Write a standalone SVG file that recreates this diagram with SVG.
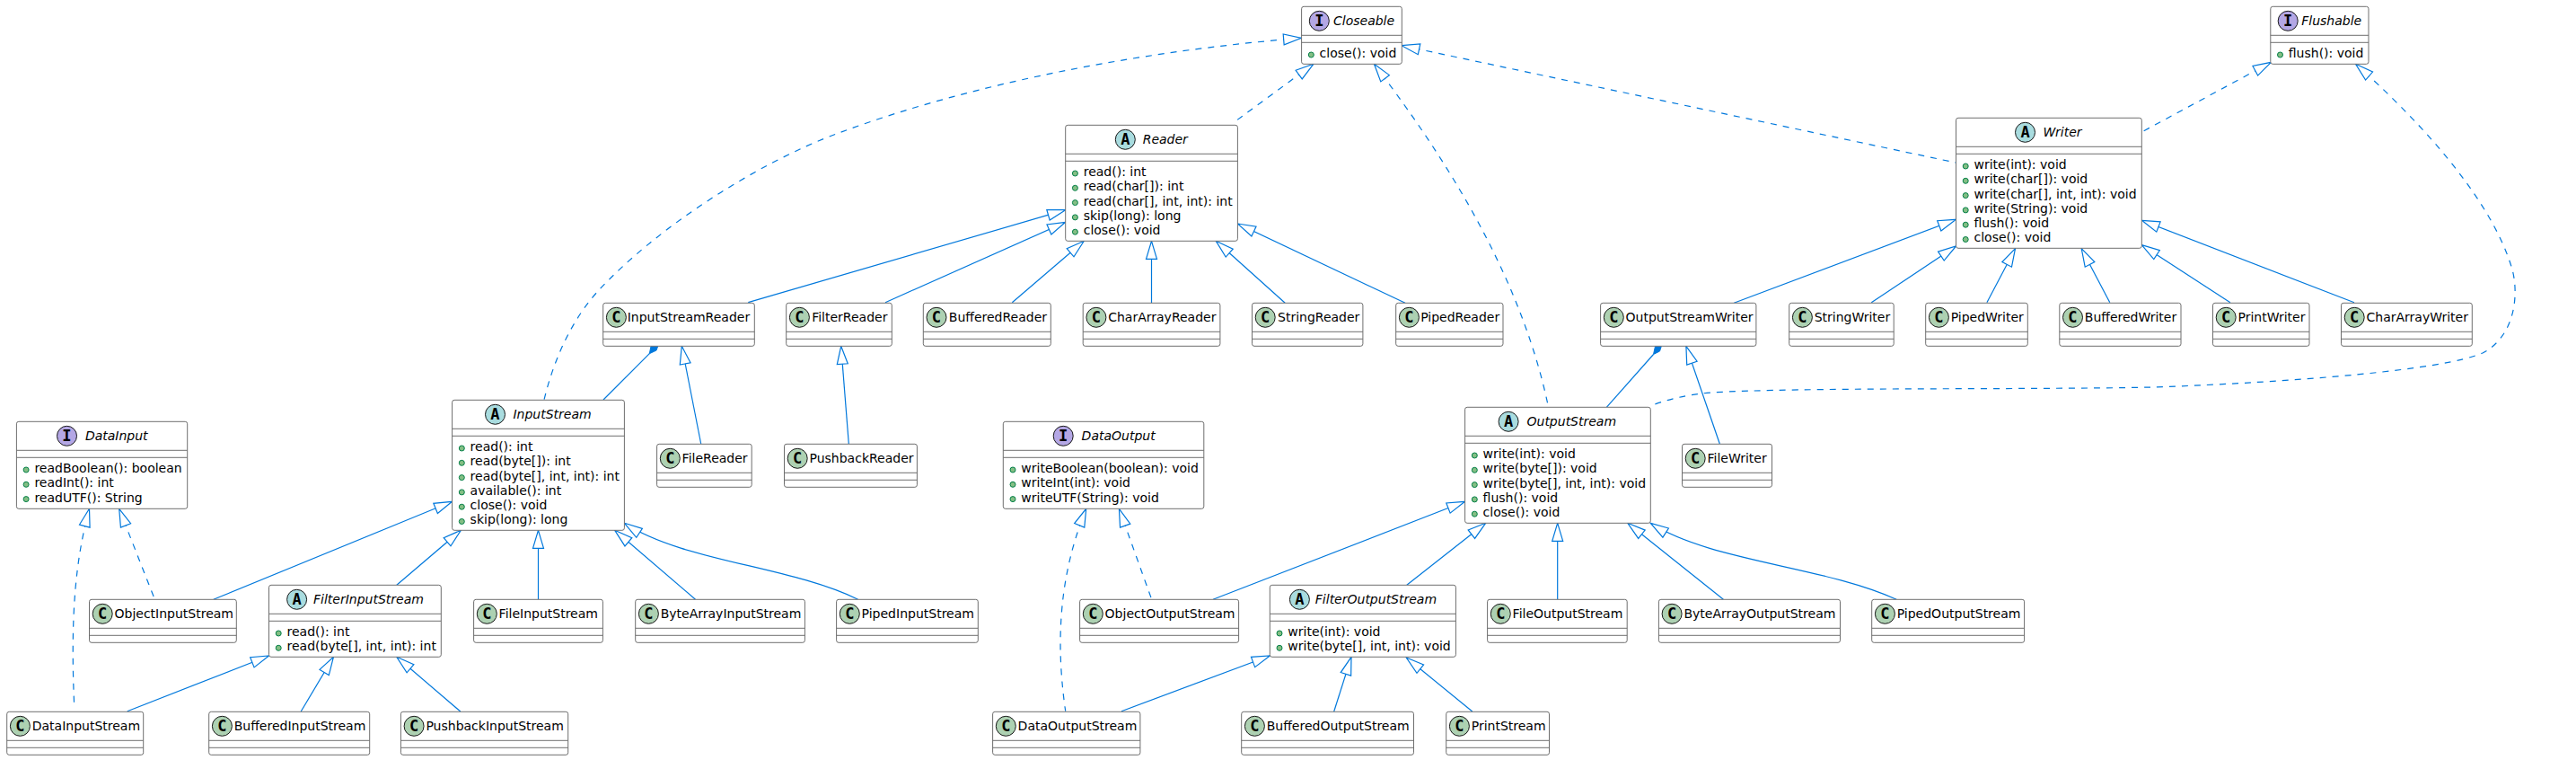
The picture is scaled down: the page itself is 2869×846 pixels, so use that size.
<svg xmlns="http://www.w3.org/2000/svg" width="2869" height="846" viewBox="0 0 2869 846">
<style>
text{font-family:"DejaVu Sans",sans-serif;font-size:14px;fill:#000}
.b{fill:#fff;stroke:#6e6e6e;stroke-width:1}
.l{fill:none;stroke:#6e6e6e;stroke-width:1}
.cc{fill:#ADD1B2;stroke:#181818;stroke-width:1}
.ca{fill:#A9DCDF;stroke:#181818;stroke-width:1}
.ci{fill:#B4A7E5;stroke:#181818;stroke-width:1}
.d{fill:#84BE84;stroke:#038048;stroke-width:1}
text.ic{font-family:"DejaVu Sans Mono",monospace;font-weight:bold;font-size:17px;text-anchor:middle}
text.it{font-style:italic}
.e{fill:none;stroke:#0078DC;stroke-width:1.2;marker-start:url(#tri)}
.da{stroke-dasharray:7,7}
.f{fill:#0078DC;stroke:#0078DC;stroke-width:1}
.k{fill:none;stroke:#0078DC;stroke-width:1.2}
</style>
<defs>
<marker id="tri" markerUnits="userSpaceOnUse" markerWidth="22" markerHeight="14" refX="0" refY="6" orient="auto" overflow="visible"><polygon points="0,6 20,0 20,12" fill="#fff" stroke="#0078DC" stroke-width="1.2"/></marker>
</defs>
<g id="connectors">
<path class="e da" d="M1449.6 42.3C1280 56 1090 90 933.3 148.3C840 183 730 255 666.7 323.3C640 352 618 395 606 445"/>
<path class="e da" d="M1462.8 71.3L1375.5 135.3"/>
<path class="e da" d="M1530.5 71.3C1590 150 1690 290 1724 450.7"/>
<path class="e da" d="M1561 50.7L2178 181"/>
<path class="e da" d="M2529.4 69.3L2385.8 146.7"/>
<path class="e da" d="M2623.6 71.3C2690 130 2775 220 2798 300C2806 330 2800 375 2765 393C2720 412 2560 425 2400 431C2250 434 2000 431 1906 437C1880 439 1860 444 1840 451"/>
<path class="e" d="M1186.7 233.7L833.3 336.7"/>
<path class="e" d="M1186.7 247.3L986 336.7"/>
<path class="e" d="M1207.3 268.3L1127.3 336.7"/>
<path class="e" d="M1282.5 268.3V337.3"/>
<path class="e" d="M1354.3 268.3L1431.2 337.3"/>
<path class="e" d="M1378.4 249L1565 337.3"/>
<path class="e" d="M2178.5 244.3L1931.2 337.3"/>
<path class="e" d="M2178.5 274L2084.3 336.7"/>
<path class="e" d="M2244.5 276.7L2212.9 336.7"/>
<path class="e" d="M2318.2 276.7L2349.8 336.7"/>
<path class="e" d="M2385.3 272.7L2483.9 336.7"/>
<path class="e" d="M2385.3 245.3L2622 336.7"/>
<path class="e" d="M759.3 385.3L780.7 494"/>
<path class="e" d="M936.7 385.3L945.3 494"/>
<path class="e" d="M1877.9 385.3L1915.3 494"/>
<path class="f" d="M723.3 393.7L725 385.5L732.7 385.5L731 390Z"/>
<path class="k" d="M723.3 393.7L672 445"/>
<path class="f" d="M1841.5 394.5L1843.5 385.5L1850.3 385.5L1848.5 391Z"/>
<path class="k" d="M1841.5 394.5L1789.3 453.3"/>
<path class="e" d="M503.6 558.3L237.8 667.3"/>
<path class="e" d="M513.3 590.3L441.8 651.3"/>
<path class="e" d="M599.5 590.3V667.3"/>
<path class="e" d="M684.7 590.3L774.5 667.3"/>
<path class="e" d="M695.4 582.3C760 625 880 630 955.6 667.3"/>
<path class="e" d="M299.5 730L141.8 791.7"/>
<path class="e" d="M371.4 731.3L335.2 792"/>
<path class="e" d="M441.8 731.3L512.8 792"/>
<path class="e da" d="M99.5 566.3C85 620 78 680 82.7 786"/>
<path class="e da" d="M132.7 566.3L172.4 667.3"/>
<path class="e da" d="M1209.7 566.3C1188 620 1172 690 1186.7 791.7"/>
<path class="e da" d="M1246.4 566.3L1282.7 667.3"/>
<path class="e" d="M1631.6 558.3L1351 667.3"/>
<path class="e" d="M1654.6 582.3L1566.8 651.3"/>
<path class="e" d="M1734.7 582.3V667.3"/>
<path class="e" d="M1812.8 582.3L1919.4 667.3"/>
<path class="e" d="M1838.3 582.3C1905 625 2030 630 2112.2 667.3"/>
<path class="e" d="M1414.3 730L1249 791.7"/>
<path class="e" d="M1505 731.3L1485.7 792"/>
<path class="e" d="M1566.3 732L1639.8 792"/>
</g>
<g id="Closeable" transform="translate(1449.6,7.3)"><rect class="b" width="111.7" height="64" rx="2.5"/><path class="l" d="M0 32H111.7M0 40H111.7"/><circle class="ci" cx="19.7" cy="16" r="11"/><text class="ic" x="19.7" y="22">I</text><text class="it" x="35.4" y="20.7">Closeable</text><circle class="d" cx="10.7" cy="53.7" r="3"/><text x="20" y="56.7">close(): void</text></g>
<g id="Flushable" transform="translate(2528.8,7.3)"><rect class="b" width="109.2" height="64" rx="2.5"/><path class="l" d="M0 32H109.2M0 40H109.2"/><circle class="ci" cx="19.4" cy="16" r="11"/><text class="ic" x="19.4" y="22">I</text><text class="it" x="34.4" y="20.7">Flushable</text><circle class="d" cx="10.7" cy="53.7" r="3"/><text x="20" y="56.7">flush(): void</text></g>
<g id="Reader" transform="translate(1186.7,139.3)"><rect class="b" width="191.7" height="129" rx="2.5"/><path class="l" d="M0 32H191.7M0 40H191.7"/><circle class="ca" cx="66.6" cy="16" r="11"/><text class="ic" x="66.6" y="22">A</text><text class="it" x="86" y="20.7">Reader</text>
<circle class="d" cx="10.7" cy="53.7" r="3"/><text x="20" y="56.7">read(): int</text><circle class="d" cx="10.7" cy="70" r="3"/><text x="20" y="73">read(char[]): int</text><circle class="d" cx="10.7" cy="86.3" r="3"/><text x="20" y="89.3">read(char[], int, int): int</text><circle class="d" cx="10.7" cy="102.6" r="3"/><text x="20" y="105.6">skip(long): long</text><circle class="d" cx="10.7" cy="118.9" r="3"/><text x="20" y="121.9">close(): void</text></g>
<g id="Writer" transform="translate(2178.5,131.3)"><rect class="b" width="206.8" height="145" rx="2.5"/><path class="l" d="M0 32H206.8M0 40H206.8"/><circle class="ca" cx="77" cy="16" r="11"/><text class="ic" x="77" y="22">A</text><text class="it" x="97" y="20.7">Writer</text>
<circle class="d" cx="10.7" cy="53.7" r="3"/><text x="20" y="56.7">write(int): void</text><circle class="d" cx="10.7" cy="70" r="3"/><text x="20" y="73">write(char[]): void</text><circle class="d" cx="10.7" cy="86.3" r="3"/><text x="20" y="89.3">write(char[], int, int): void</text><circle class="d" cx="10.7" cy="102.6" r="3"/><text x="20" y="105.6">write(String): void</text><circle class="d" cx="10.7" cy="118.9" r="3"/><text x="20" y="121.9">flush(): void</text><circle class="d" cx="10.7" cy="135.2" r="3"/><text x="20" y="138.2">close(): void</text></g>
<g id="InputStreamReader" transform="translate(671.7,337.3)"><rect class="b" width="168.6" height="48" rx="2.5"/><path class="l" d="M0 32H168.6M0 40H168.6"/><circle class="cc" cx="14.7" cy="16" r="11"/><text class="ic" x="14.7" y="22">C</text><text x="27" y="20.7">InputStreamReader</text></g>
<g id="FilterReader" transform="translate(875.7,337.3)"><rect class="b" width="117.6" height="48" rx="2.5"/><path class="l" d="M0 32H117.6M0 40H117.6"/><circle class="cc" cx="14.7" cy="16" r="11"/><text class="ic" x="14.7" y="22">C</text><text x="28.5" y="20.7">FilterReader</text></g>
<g id="BufferedReader" transform="translate(1028.3,337.3)"><rect class="b" width="142" height="48" rx="2.5"/><path class="l" d="M0 32H142M0 40H142"/><circle class="cc" cx="14.7" cy="16" r="11"/><text class="ic" x="14.7" y="22">C</text><text x="28.5" y="20.7">BufferedReader</text></g>
<g id="CharArrayReader" transform="translate(1206.2,337.3)"><rect class="b" width="152.7" height="48" rx="2.5"/><path class="l" d="M0 32H152.7M0 40H152.7"/><circle class="cc" cx="14.7" cy="16" r="11"/><text class="ic" x="14.7" y="22">C</text><text x="28" y="20.7">CharArrayReader</text></g>
<g id="StringReader" transform="translate(1394.5,337.3)"><rect class="b" width="123.4" height="48" rx="2.5"/><path class="l" d="M0 32H123.4M0 40H123.4"/><circle class="cc" cx="14.7" cy="16" r="11"/><text class="ic" x="14.7" y="22">C</text><text x="28.5" y="20.7">StringReader</text></g>
<g id="PipedReader" transform="translate(1554.7,337.3)"><rect class="b" width="119.3" height="48" rx="2.5"/><path class="l" d="M0 32H119.3M0 40H119.3"/><circle class="cc" cx="14.7" cy="16" r="11"/><text class="ic" x="14.7" y="22">C</text><text x="27.5" y="20.7">PipedReader</text></g>
<g id="OutputStreamWriter" transform="translate(1782.6,337.3)"><rect class="b" width="173.3" height="48" rx="2.5"/><path class="l" d="M0 32H173.3M0 40H173.3"/><circle class="cc" cx="14.7" cy="16" r="11"/><text class="ic" x="14.7" y="22">C</text><text x="28" y="20.7">OutputStreamWriter</text></g>
<g id="StringWriter" transform="translate(1992.7,337.3)"><rect class="b" width="116.5" height="48" rx="2.5"/><path class="l" d="M0 32H116.5M0 40H116.5"/><circle class="cc" cx="14.7" cy="16" r="11"/><text class="ic" x="14.7" y="22">C</text><text x="28" y="20.7">StringWriter</text></g>
<g id="PipedWriter" transform="translate(2144.7,337.3)"><rect class="b" width="113.6" height="48" rx="2.5"/><path class="l" d="M0 32H113.6M0 40H113.6"/><circle class="cc" cx="14.7" cy="16" r="11"/><text class="ic" x="14.7" y="22">C</text><text x="28" y="20.7">PipedWriter</text></g>
<g id="BufferedWriter" transform="translate(2293.8,337.3)"><rect class="b" width="135.2" height="48" rx="2.5"/><path class="l" d="M0 32H135.2M0 40H135.2"/><circle class="cc" cx="14.7" cy="16" r="11"/><text class="ic" x="14.7" y="22">C</text><text x="28" y="20.7">BufferedWriter</text></g>
<g id="PrintWriter" transform="translate(2464.5,337.3)"><rect class="b" width="107.5" height="48" rx="2.5"/><path class="l" d="M0 32H107.5M0 40H107.5"/><circle class="cc" cx="14.7" cy="16" r="11"/><text class="ic" x="14.7" y="22">C</text><text x="28" y="20.7">PrintWriter</text></g>
<g id="CharArrayWriter" transform="translate(2607.5,337.3)"><rect class="b" width="145.8" height="48" rx="2.5"/><path class="l" d="M0 32H145.8M0 40H145.8"/><circle class="cc" cx="14.7" cy="16" r="11"/><text class="ic" x="14.7" y="22">C</text><text x="28" y="20.7">CharArrayWriter</text></g>
<g id="DataInput" transform="translate(18.4,469.3)"><rect class="b" width="190.3" height="97" rx="2.5"/><path class="l" d="M0 32H190.3M0 40H190.3"/><circle class="ci" cx="56.1" cy="16" r="11"/><text class="ic" x="56.1" y="22">I</text><text class="it" x="76.5" y="20.7">DataInput</text>
<circle class="d" cx="10.7" cy="53.7" r="3"/><text x="20" y="56.7">readBoolean(): boolean</text><circle class="d" cx="10.7" cy="70" r="3"/><text x="20" y="73">readInt(): int</text><circle class="d" cx="10.7" cy="86.3" r="3"/><text x="20" y="89.3">readUTF(): String</text></g>
<g id="InputStream" transform="translate(503.6,445.3)"><rect class="b" width="191.8" height="145" rx="2.5"/><path class="l" d="M0 32H191.8M0 40H191.8"/><circle class="ca" cx="47.9" cy="16" r="11"/><text class="ic" x="47.9" y="22">A</text><text class="it" x="67.8" y="20.7">InputStream</text>
<circle class="d" cx="10.7" cy="53.7" r="3"/><text x="20" y="56.7">read(): int</text><circle class="d" cx="10.7" cy="70" r="3"/><text x="20" y="73">read(byte[]): int</text><circle class="d" cx="10.7" cy="86.3" r="3"/><text x="20" y="89.3">read(byte[], int, int): int</text><circle class="d" cx="10.7" cy="102.6" r="3"/><text x="20" y="105.6">available(): int</text><circle class="d" cx="10.7" cy="118.9" r="3"/><text x="20" y="121.9">close(): void</text><circle class="d" cx="10.7" cy="135.2" r="3"/><text x="20" y="138.2">skip(long): long</text></g>
<g id="FileReader" transform="translate(731.6,494.3)"><rect class="b" width="105.6" height="48" rx="2.5"/><path class="l" d="M0 32H105.6M0 40H105.6"/><circle class="cc" cx="14.7" cy="16" r="11"/><text class="ic" x="14.7" y="22">C</text><text x="28" y="20.7">FileReader</text></g>
<g id="PushbackReader" transform="translate(873.5,494.3)"><rect class="b" width="147.9" height="48" rx="2.5"/><path class="l" d="M0 32H147.9M0 40H147.9"/><circle class="cc" cx="14.7" cy="16" r="11"/><text class="ic" x="14.7" y="22">C</text><text x="28" y="20.7">PushbackReader</text></g>
<g id="DataOutput" transform="translate(1117.3,469.3)"><rect class="b" width="223.5" height="97" rx="2.5"/><path class="l" d="M0 32H223.5M0 40H223.5"/><circle class="ci" cx="66.9" cy="16" r="11"/><text class="ic" x="66.9" y="22">I</text><text class="it" x="87.3" y="20.7">DataOutput</text>
<circle class="d" cx="10.7" cy="53.7" r="3"/><text x="20" y="56.7">writeBoolean(boolean): void</text><circle class="d" cx="10.7" cy="70" r="3"/><text x="20" y="73">writeInt(int): void</text><circle class="d" cx="10.7" cy="86.3" r="3"/><text x="20" y="89.3">writeUTF(String): void</text></g>
<g id="OutputStream" transform="translate(1631.6,453.3)"><rect class="b" width="206.7" height="129" rx="2.5"/><path class="l" d="M0 32H206.7M0 40H206.7"/><circle class="ca" cx="48.5" cy="16" r="11"/><text class="ic" x="48.5" y="22">A</text><text class="it" x="68.9" y="20.7">OutputStream</text>
<circle class="d" cx="10.7" cy="53.7" r="3"/><text x="20" y="56.7">write(int): void</text><circle class="d" cx="10.7" cy="70" r="3"/><text x="20" y="73">write(byte[]): void</text><circle class="d" cx="10.7" cy="86.3" r="3"/><text x="20" y="89.3">write(byte[], int, int): void</text><circle class="d" cx="10.7" cy="102.6" r="3"/><text x="20" y="105.6">flush(): void</text><circle class="d" cx="10.7" cy="118.9" r="3"/><text x="20" y="121.9">close(): void</text></g>
<g id="FileWriter" transform="translate(1873.5,494.3)"><rect class="b" width="100" height="48" rx="2.5"/><path class="l" d="M0 32H100M0 40H100"/><circle class="cc" cx="14.7" cy="16" r="11"/><text class="ic" x="14.7" y="22">C</text><text x="28" y="20.7">FileWriter</text></g>
<g id="ObjectInputStream" transform="translate(99.5,667.3)"><rect class="b" width="163.8" height="48" rx="2.5"/><path class="l" d="M0 32H163.8M0 40H163.8"/><circle class="cc" cx="14.7" cy="16" r="11"/><text class="ic" x="14.7" y="22">C</text><text x="28" y="20.7">ObjectInputStream</text></g>
<g id="FilterInputStream" transform="translate(299.5,651.3)"><rect class="b" width="191.8" height="80" rx="2.5"/><path class="l" d="M0 32H191.8M0 40H191.8"/><circle class="ca" cx="31.1" cy="16" r="11"/><text class="ic" x="31.1" y="22">A</text><text class="it" x="49.5" y="20.7">FilterInputStream</text>
<circle class="d" cx="10.7" cy="53.7" r="3"/><text x="20" y="56.7">read(): int</text><circle class="d" cx="10.7" cy="70" r="3"/><text x="20" y="73">read(byte[], int, int): int</text></g>
<g id="FileInputStream" transform="translate(527.6,667.3)"><rect class="b" width="143.8" height="48" rx="2.5"/><path class="l" d="M0 32H143.8M0 40H143.8"/><circle class="cc" cx="14.7" cy="16" r="11"/><text class="ic" x="14.7" y="22">C</text><text x="28" y="20.7">FileInputStream</text></g>
<g id="ByteArrayInputStream" transform="translate(707.7,667.3)"><rect class="b" width="188.7" height="48" rx="2.5"/><path class="l" d="M0 32H188.7M0 40H188.7"/><circle class="cc" cx="14.7" cy="16" r="11"/><text class="ic" x="14.7" y="22">C</text><text x="28" y="20.7">ByteArrayInputStream</text></g>
<g id="PipedInputStream" transform="translate(931.6,667.3)"><rect class="b" width="157.7" height="48" rx="2.5"/><path class="l" d="M0 32H157.7M0 40H157.7"/><circle class="cc" cx="14.7" cy="16" r="11"/><text class="ic" x="14.7" y="22">C</text><text x="28" y="20.7">PipedInputStream</text></g>
<g id="DataInputStream" transform="translate(7.7,792.3)"><rect class="b" width="152" height="48" rx="2.5"/><path class="l" d="M0 32H152M0 40H152"/><circle class="cc" cx="14.7" cy="16" r="11"/><text class="ic" x="14.7" y="22">C</text><text x="28" y="20.7">DataInputStream</text></g>
<g id="BufferedInputStream" transform="translate(232.7,792.3)"><rect class="b" width="179" height="48" rx="2.5"/><path class="l" d="M0 32H179M0 40H179"/><circle class="cc" cx="14.7" cy="16" r="11"/><text class="ic" x="14.7" y="22">C</text><text x="28" y="20.7">BufferedInputStream</text></g>
<g id="PushbackInputStream" transform="translate(446.4,792.3)"><rect class="b" width="186.3" height="48" rx="2.5"/><path class="l" d="M0 32H186.3M0 40H186.3"/><circle class="cc" cx="14.7" cy="16" r="11"/><text class="ic" x="14.7" y="22">C</text><text x="28" y="20.7">PushbackInputStream</text></g>
<g id="ObjectOutputStream" transform="translate(1202.6,667.3)"><rect class="b" width="177" height="48" rx="2.5"/><path class="l" d="M0 32H177M0 40H177"/><circle class="cc" cx="14.7" cy="16" r="11"/><text class="ic" x="14.7" y="22">C</text><text x="28" y="20.7">ObjectOutputStream</text></g>
<g id="FilterOutputStream" transform="translate(1414.3,651.3)"><rect class="b" width="207.1" height="80" rx="2.5"/><path class="l" d="M0 32H207.1M0 40H207.1"/><circle class="ca" cx="33.1" cy="16" r="11"/><text class="ic" x="33.1" y="22">A</text><text class="it" x="50.5" y="20.7">FilterOutputStream</text>
<circle class="d" cx="10.7" cy="53.7" r="3"/><text x="20" y="56.7">write(int): void</text><circle class="d" cx="10.7" cy="70" r="3"/><text x="20" y="73">write(byte[], int, int): void</text></g>
<g id="FileOutputStream" transform="translate(1656.6,667.3)"><rect class="b" width="155.6" height="48" rx="2.5"/><path class="l" d="M0 32H155.6M0 40H155.6"/><circle class="cc" cx="14.7" cy="16" r="11"/><text class="ic" x="14.7" y="22">C</text><text x="28" y="20.7">FileOutputStream</text></g>
<g id="ByteArrayOutputStream" transform="translate(1847.4,667.3)"><rect class="b" width="202.1" height="48" rx="2.5"/><path class="l" d="M0 32H202.1M0 40H202.1"/><circle class="cc" cx="14.7" cy="16" r="11"/><text class="ic" x="14.7" y="22">C</text><text x="28" y="20.7">ByteArrayOutputStream</text></g>
<g id="PipedOutputStream" transform="translate(2084.7,667.3)"><rect class="b" width="169.9" height="48" rx="2.5"/><path class="l" d="M0 32H169.9M0 40H169.9"/><circle class="cc" cx="14.7" cy="16" r="11"/><text class="ic" x="14.7" y="22">C</text><text x="28" y="20.7">PipedOutputStream</text></g>
<g id="DataOutputStream" transform="translate(1105.6,792.3)"><rect class="b" width="164.3" height="48" rx="2.5"/><path class="l" d="M0 32H164.3M0 40H164.3"/><circle class="cc" cx="14.7" cy="16" r="11"/><text class="ic" x="14.7" y="22">C</text><text x="28" y="20.7">DataOutputStream</text></g>
<g id="BufferedOutputStream" transform="translate(1382.7,792.3)"><rect class="b" width="191.8" height="48" rx="2.5"/><path class="l" d="M0 32H191.8M0 40H191.8"/><circle class="cc" cx="14.7" cy="16" r="11"/><text class="ic" x="14.7" y="22">C</text><text x="28" y="20.7">BufferedOutputStream</text></g>
<g id="PrintStream" transform="translate(1610.7,792.3)"><rect class="b" width="114.8" height="48" rx="2.5"/><path class="l" d="M0 32H114.8M0 40H114.8"/><circle class="cc" cx="14.7" cy="16" r="11"/><text class="ic" x="14.7" y="22">C</text><text x="28" y="20.7">PrintStream</text></g>
</svg>
